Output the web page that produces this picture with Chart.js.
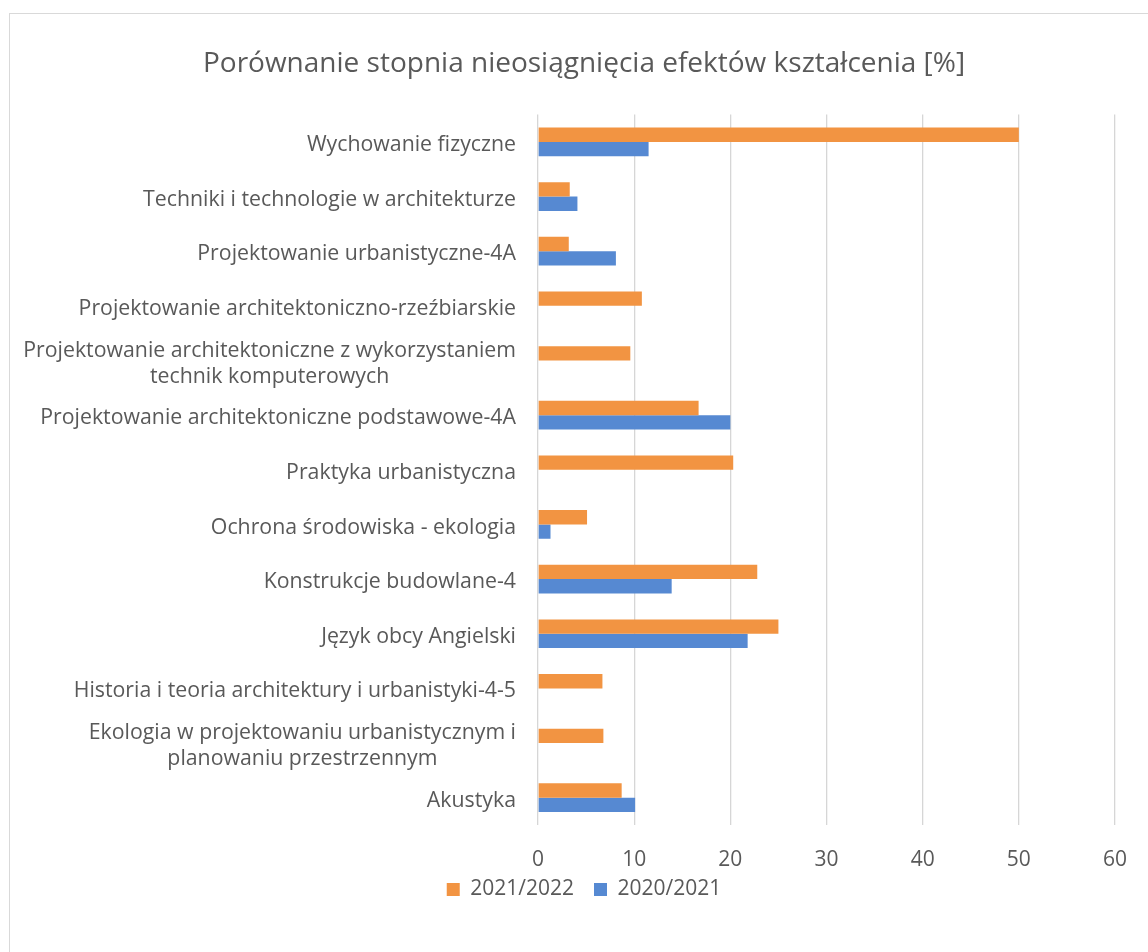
<!DOCTYPE html>
<html>
<head>
<meta charset="utf-8">
<script src="https://cdn.jsdelivr.net/npm/chart.js"></script>
<style>
  html, body { margin: 0; padding: 0; background: #fff; overflow: hidden; }
  #frame { position: absolute; left: 9px; top: 13px; width: 1150px; height: 960px; border: 1px solid #d9d9d9; }
  #wrap { position: absolute; left: 0; top: 0; width: 1150px; height: 938px; }
</style>
</head>
<body>
<div id="frame"><div id="wrap"><canvas id="chart"></canvas></div></div>
<script>
// data, top to bottom
const categories = [
  'Wychowanie fizyczne',
  'Techniki i technologie w architekturze',
  'Projektowanie urbanistyczne-4A',
  'Projektowanie architektoniczno-rzeźbiarskie',
  ['Projektowanie architektoniczne z wykorzystaniem', 'technik komputerowych'],
  'Projektowanie architektoniczne podstawowe-4A',
  'Praktyka urbanistyczna',
  'Ochrona środowiska - ekologia',
  'Konstrukcje budowlane-4',
  'Język obcy Angielski',
  'Historia i teoria architektury i urbanistyki-4-5',
  ['Ekologia w projektowaniu urbanistycznym i', 'planowaniu przestrzennym'],
  'Akustyka'
];
const values2122 = [50, 3.3, 3.2, 10.8, 9.6, 16.7, 20.3, 5.1, 22.8, 25.0, 6.7, 6.8, 8.7];
const values2021 = [11.5, 4.1, 8.1, null, null, 20.0, null, 1.3, 13.9, 21.8, null, null, 10.1];
const seriesNames = ['2021/2022', '2020/2021'];
const xTicks = { min: 0, max: 60, step: 10 };

const TEXT = '#595959';
const FONT = 'Open Sans';

// category labels: lines centred on each other, block right-aligned (like Excel)
const yLabels = {
  id: 'yLabels',
  afterLayout(chart) {
    // pull the legend up a bit, closer to the axis labels
    if (chart.legend) { chart.legend.top -= 13; chart.legend.bottom -= 13; }
  },
  afterDraw(chart) {
    const ctx = chart.ctx, y = chart.scales.y;
    ctx.save();
    ctx.font = '21.3px "' + FONT + '"';
    ctx.fillStyle = TEXT;
    ctx.textAlign = 'center';
    ctx.textBaseline = 'middle';
    const right = y.right - 22;
    categories.forEach((lab, i) => {
      const lines = Array.isArray(lab) ? lab : [lab];
      const w = Math.max(...lines.map(l => ctx.measureText(l).width));
      const cy = y.getPixelForTick(i) + 3;
      lines.forEach((l, j) => {
        ctx.fillText(l, right - w / 2, cy + (j - (lines.length - 1) / 2) * 26);
      });
    });
    ctx.restore();
  }
};

new Chart(document.getElementById('chart'), {
  type: 'bar',
  data: {
    labels: categories,
    datasets: [
      { label: seriesNames[0], data: values2122, backgroundColor: '#F29442' },
      { label: seriesNames[1], data: values2021, backgroundColor: '#5689D2' }
    ]
  },
  options: {
    indexAxis: 'y',
    responsive: true,
    maintainAspectRatio: false,
    animation: false,
    layout: { padding: { left: 43, right: 45, top: 0, bottom: 29 } },
    datasets: { bar: { categoryPercentage: 0.525, barPercentage: 1 } },
    scales: {
      x: {
        min: xTicks.min, max: xTicks.max,
        grid: { color: '#d6d6d6', lineWidth: 1.3, drawTicks: false },
        border: { display: false },
        ticks: { stepSize: xTicks.step, padding: 22, color: TEXT, font: { family: FONT, size: 21 } },
        afterFit(s) { s.height = 47; }
      },
      y: {
        grid: { display: false },
        border: { display: false },
        ticks: { display: false },
        afterFit(s) { s.width = 485; }
      }
    },
    plugins: {
      title: {
        display: true,
        text: 'Porównanie stopnia nieosiągnięcia efektów kształcenia [%]',
        color: TEXT,
        font: { family: FONT, size: 28, weight: 'normal' },
        padding: { top: 33, bottom: 34 }
      },
      legend: {
        position: 'bottom',
        labels: { boxWidth: 13, boxHeight: 13, padding: 20, color: TEXT, font: { family: FONT, size: 21 } }
      },
      tooltip: { enabled: false }
    }
  },
  plugins: [yLabels]
});
</script>
</body>
</html>
